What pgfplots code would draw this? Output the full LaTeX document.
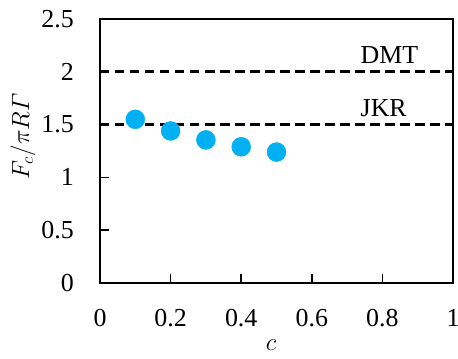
\documentclass[border=0pt]{standalone}
\usepackage{fontspec}
\setmainfont{Liberation Serif}
\usepackage{pgfplots}
\pgfplotsset{compat=1.18}
\definecolor{pt}{RGB}{0,176,240}
\begin{document}
\begin{tikzpicture}[x=1bp,y=1bp]
\begin{axis}[
  at={(0,0)}, anchor=south west,
  width=353bp, height=264bp, scale only axis,
  xmin=0, xmax=1, ymin=0, ymax=2.5,
  xtick={0,0.2,...,1}, ytick={0,0.5,...,2.5},
  xticklabels={0,0.2,0.4,0.6,0.8,1},
  yticklabels={0,0.5,1,1.5,2,2.5},
  tick align=inside, xtick pos=bottom, ytick pos=left,
  major tick length=9bp,
  axis line style={line width=1.8bp},
  every tick/.style={line width=1.5bp, black},
  tick label style={font=\fontsize{26}{30}\selectfont, inner sep=0pt},
  xticklabel style={anchor=base, yshift=-43bp},
  yticklabel style={anchor=east, xshift=-26bp},
  /pgf/number format/assume math mode=true,
  xlabel={$c$}, ylabel={$F_c/\pi R\mathnormal{\Gamma}$},
  label style={font=\fontsize{26}{30}\selectfont, inner sep=0pt},
  every axis x label/.append style={at={(axis description cs:0.485,-0.235)}, anchor=center},
  every axis y label/.append style={at={(axis description cs:-0.218,0.555)}, anchor=center},
  clip=false,
]
\addplot[black, line width=2.8bp, dash pattern=on 9.5bp off 5.5bp] coordinates {(0,2) (1,2)};
\addplot[black, line width=2.8bp, dash pattern=on 9.5bp off 5.5bp] coordinates {(0,1.5) (1,1.5)};
\addplot[only marks, mark=*, mark size=9.5bp, mark options={fill=pt, draw=pt}] coordinates {
(0.1,1.55) (0.2,1.44) (0.3,1.355) (0.4,1.29) (0.5,1.24)};
\node[anchor=base west, inner sep=0pt, font=\fontsize{26}{30}\selectfont] at (axis cs:0.738,2.08) {DMT};
\node[anchor=base west, inner sep=0pt, font=\fontsize{26}{30}\selectfont] at (axis cs:0.738,1.58) {JKR};
\end{axis}
\pgfresetboundingbox
\path[use as bounding box] (-100bp,-76bp) rectangle (358bp,283bp);
\end{tikzpicture}
\end{document}
